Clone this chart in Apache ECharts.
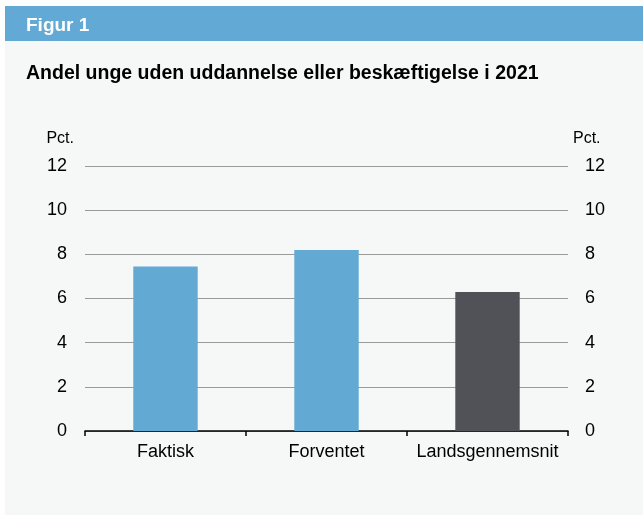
<!DOCTYPE html>
<html>
<head>
<meta charset="utf-8">
<script src="https://cdn.jsdelivr.net/npm/echarts@6/dist/echarts.min.js"></script>
<style>
  html, body { margin: 0; padding: 0; background: #fff; }
  #chart { width: 643px; height: 516px; }
</style>
</head>
<body>
<div id="chart"></div>
<script>
const categories = ['Faktisk', 'Forventet', 'Landsgennemsnit']
const values = [7.45, 8.2, 6.3]
const barColors = ['#62a9d4', '#62a9d4', '#505257']
const yTicks = { min: 0, max: 12, interval: 2 }

const chart = echarts.init(document.getElementById('chart'))

const font = '"Liberation Sans", Arial, sans-serif'

// fælles y-akse opsætning (venstre + højre)
function yAxis(side) {
  return {
    type: 'value',
    position: side,
    min: yTicks.min,
    max: yTicks.max,
    interval: yTicks.interval,
    name: 'Pct.',
    nameLocation: 'end',
    nameGap: 19,
    nameTextStyle: {
      color: '#000', fontSize: 16, fontFamily: font,
      align: side === 'left' ? 'right' : 'left',
      padding: side === 'left' ? [0, 11, 0, 0] : [0, 0, 0, 5]
    },
    axisLine: { show: false },
    axisTick: { show: false },
    axisLabel: { color: '#000', fontSize: 18, fontFamily: font, margin: side === 'left' ? 18 : 17 },
    splitLine: { show: side === 'left', lineStyle: { color: '#9a9a9a', width: 1 } }
  }
}

chart.setOption({
  backgroundColor: '#ffffff',
  animation: false,
  graphic: [
    { type: 'rect', left: 5, top: 41, shape: { width: 638, height: 474 }, style: { fill: '#f6f8f8' }, z: -10 },
    { type: 'rect', left: 5, top: 6, shape: { width: 638, height: 35 }, style: { fill: '#63a9d5' }, z: -10 }
  ],
  title: [
    { text: 'Figur 1', left: 21, top: 11, textStyle: { color: '#fff', fontSize: 19, fontWeight: 'bold', fontFamily: font } },
    { text: 'Andel unge uden uddannelse eller beskæftigelse i 2021', left: 21, top: 59, textStyle: { color: '#000', fontSize: 19.5, fontWeight: 'bold', fontFamily: font } }
  ],
  grid: { left: 85, right: 75, top: 166, bottom: 85 },
  xAxis: {
    type: 'category',
    data: categories,
    axisLine: { lineStyle: { color: '#000', width: 1.5 } },
    axisTick: { show: true, interval: 0, length: 5, lineStyle: { color: '#000', width: 1.5 } },
    axisLabel: { interval: 0, color: '#000', fontSize: 18, fontFamily: font, margin: 12 }
  },
  yAxis: [yAxis('left'), yAxis('right')],
  series: [
    {
      type: 'bar',
      barWidth: '40%',
      data: values.map((v, i) => ({ value: v, itemStyle: { color: barColors[i] } }))
    }
  ]
})
</script>
</body>
</html>
